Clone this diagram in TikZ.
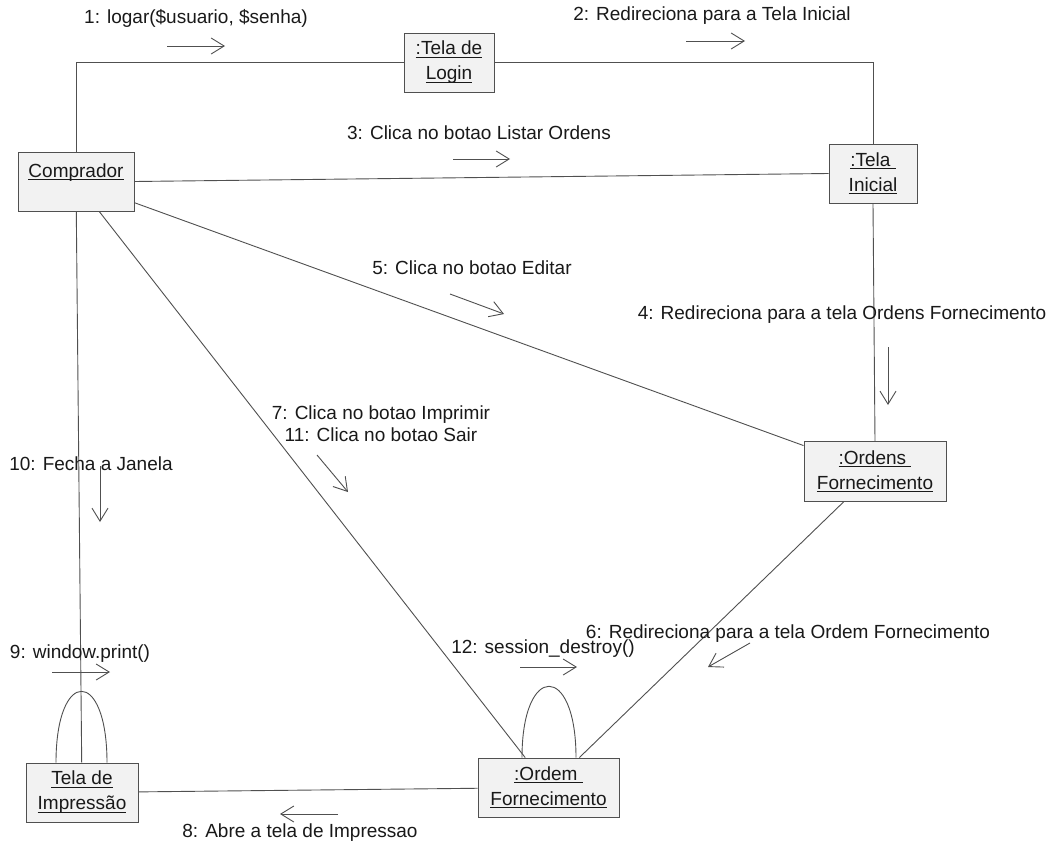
\documentclass[tikz,border=0pt]{standalone}
\usepackage{fontspec}
\setmainfont{Liberation Sans}
\usetikzlibrary{arrows.meta}
\definecolor{linec}{RGB}{80,80,80}
\definecolor{textc}{RGB}{25,25,25}
\definecolor{boxfill}{RGB}{242,242,242}
\newcommand\myul[1]{\setbox0\hbox{#1}\rlap{\rule[-2.8pt]{\wd0}{0.9pt}}\box0}
\begin{document}
\begin{tikzpicture}[x=1pt,y=-1pt,
  font=\fontsize{19}{25}\selectfont,
  obj/.style={draw=linec, fill=boxfill, line width=0.9pt, align=center, inner sep=2pt, text=textc},
  link/.style={draw=linec, line width=0.9pt},
  msg/.style={draw=linec, line width=0.9pt, -{Straight Barb[length=13pt,width=16pt]}},
  lbl/.style={text=textc, inner sep=0pt}]
\useasboundingbox[fill=white] (0,0) rectangle (1061,846);

% objects
\node[obj, minimum width=116pt, minimum height=59pt, text height=14pt, text depth=22pt] (comp) at (76,181.5) {\myul{Comprador}};
\node[obj, minimum width=90pt, minimum height=59pt] (login) at (449,62.5) {\myul{:Tela de}\\\myul{Login}};
\node[obj, minimum width=88pt, minimum height=59pt] (inicial) at (873,173.5) {\myul{:Tela\ }\\\myul{Inicial}};
\node[obj, minimum width=142pt, minimum height=60pt] (ordens) at (875,471.5) {\myul{:Ordens\ }\\\myul{Fornecimento}};
\node[obj, minimum width=112pt, minimum height=59pt] (impr) at (82,792.5) {\myul{Tela de}\\\myul{Impressão}};
\node[obj, minimum width=141pt, minimum height=59pt] (ordem) at (548.5,787.5) {\myul{:Ordem\ }\\\myul{Fornecimento}};

% links
\draw[link] (comp.north) |- (login.west);
\draw[link] (login.east) -| (inicial.north);
\draw[link] (comp.east) -- (inicial.west);
\draw[link] (inicial.south) -- (ordens.north);
\draw[link] (comp) -- (ordens);
\draw[link] (comp) -- (ordem);
\draw[link] (ordens) -- (ordem);
\draw[link] (comp) -- (impr);
\draw[link] (impr) -- (ordem);
\draw[link] ([xshift=-26pt]impr.north) .. controls +(0,-95) and +(0,-95) .. ([xshift=25pt]impr.north);
\draw[link] ([xshift=-26.5pt]ordem.north) .. controls +(0,-95) and +(0,-95) .. ([xshift=27.5pt]ordem.north);

% message arrows
\coordinate (m1s) at (167,46);  \coordinate (m1e) at (225,46);
\coordinate (m2s) at (686,41);  \coordinate (m2e) at (745,41);
\coordinate (m3s) at (453,159); \coordinate (m3e) at (510,159);
\coordinate (m4s) at (888,347); \coordinate (m4e) at (888,405);
\coordinate (m5s) at (450,294); \coordinate (m5e) at (504,314);
\coordinate (m6s) at (750,643); \coordinate (m6e) at (708,667);
\coordinate (m7s) at (317,455); \coordinate (m7e) at (348,492);
\coordinate (m8s) at (338,814); \coordinate (m8e) at (280,814);
\coordinate (m9s) at (52,672);  \coordinate (m9e) at (110,672);
\coordinate (m10s) at (100,466); \coordinate (m10e) at (100,522);
\coordinate (m12s) at (520,667); \coordinate (m12e) at (577,667);
\foreach \m in {1,2,3,4,5,6,7,8,9,10,12} \draw[msg] (m\m s) -- (m\m e);

% labels
\node[lbl] (l1) at (196,18) {1: logar(\$usuario, \$senha)};
\node[lbl] (l2) at (712,16) {2: Redireciona para a Tela Inicial};
\node[lbl] (l3) at (479,133) {3: Clica no botao Listar Ordens};
\node[lbl] (l5) at (472,268) {5: Clica no botao Editar};
\node[lbl] (l4) at (842,315) {4: Redireciona para a tela Ordens Fornecimento};
\node[lbl, align=center, font=\fontsize{19}{22}\selectfont] (l7) at (381,424) {7: Clica no botao Imprimir\\11: Clica no botao Sair};
\node[lbl] (l10) at (91,464) {10: Fecha a Janela};
\node[lbl] (l9) at (80,654) {9: window.print()};
\node[lbl] (l12) at (543,649) {12: session\_destroy()};
\node[lbl] (l6) at (788,634) {6: Redireciona para a tela Ordem Fornecimento};
\node[lbl] (l8) at (300,833) {8: Abre a tela de Impressao};
\end{tikzpicture}
\end{document}
